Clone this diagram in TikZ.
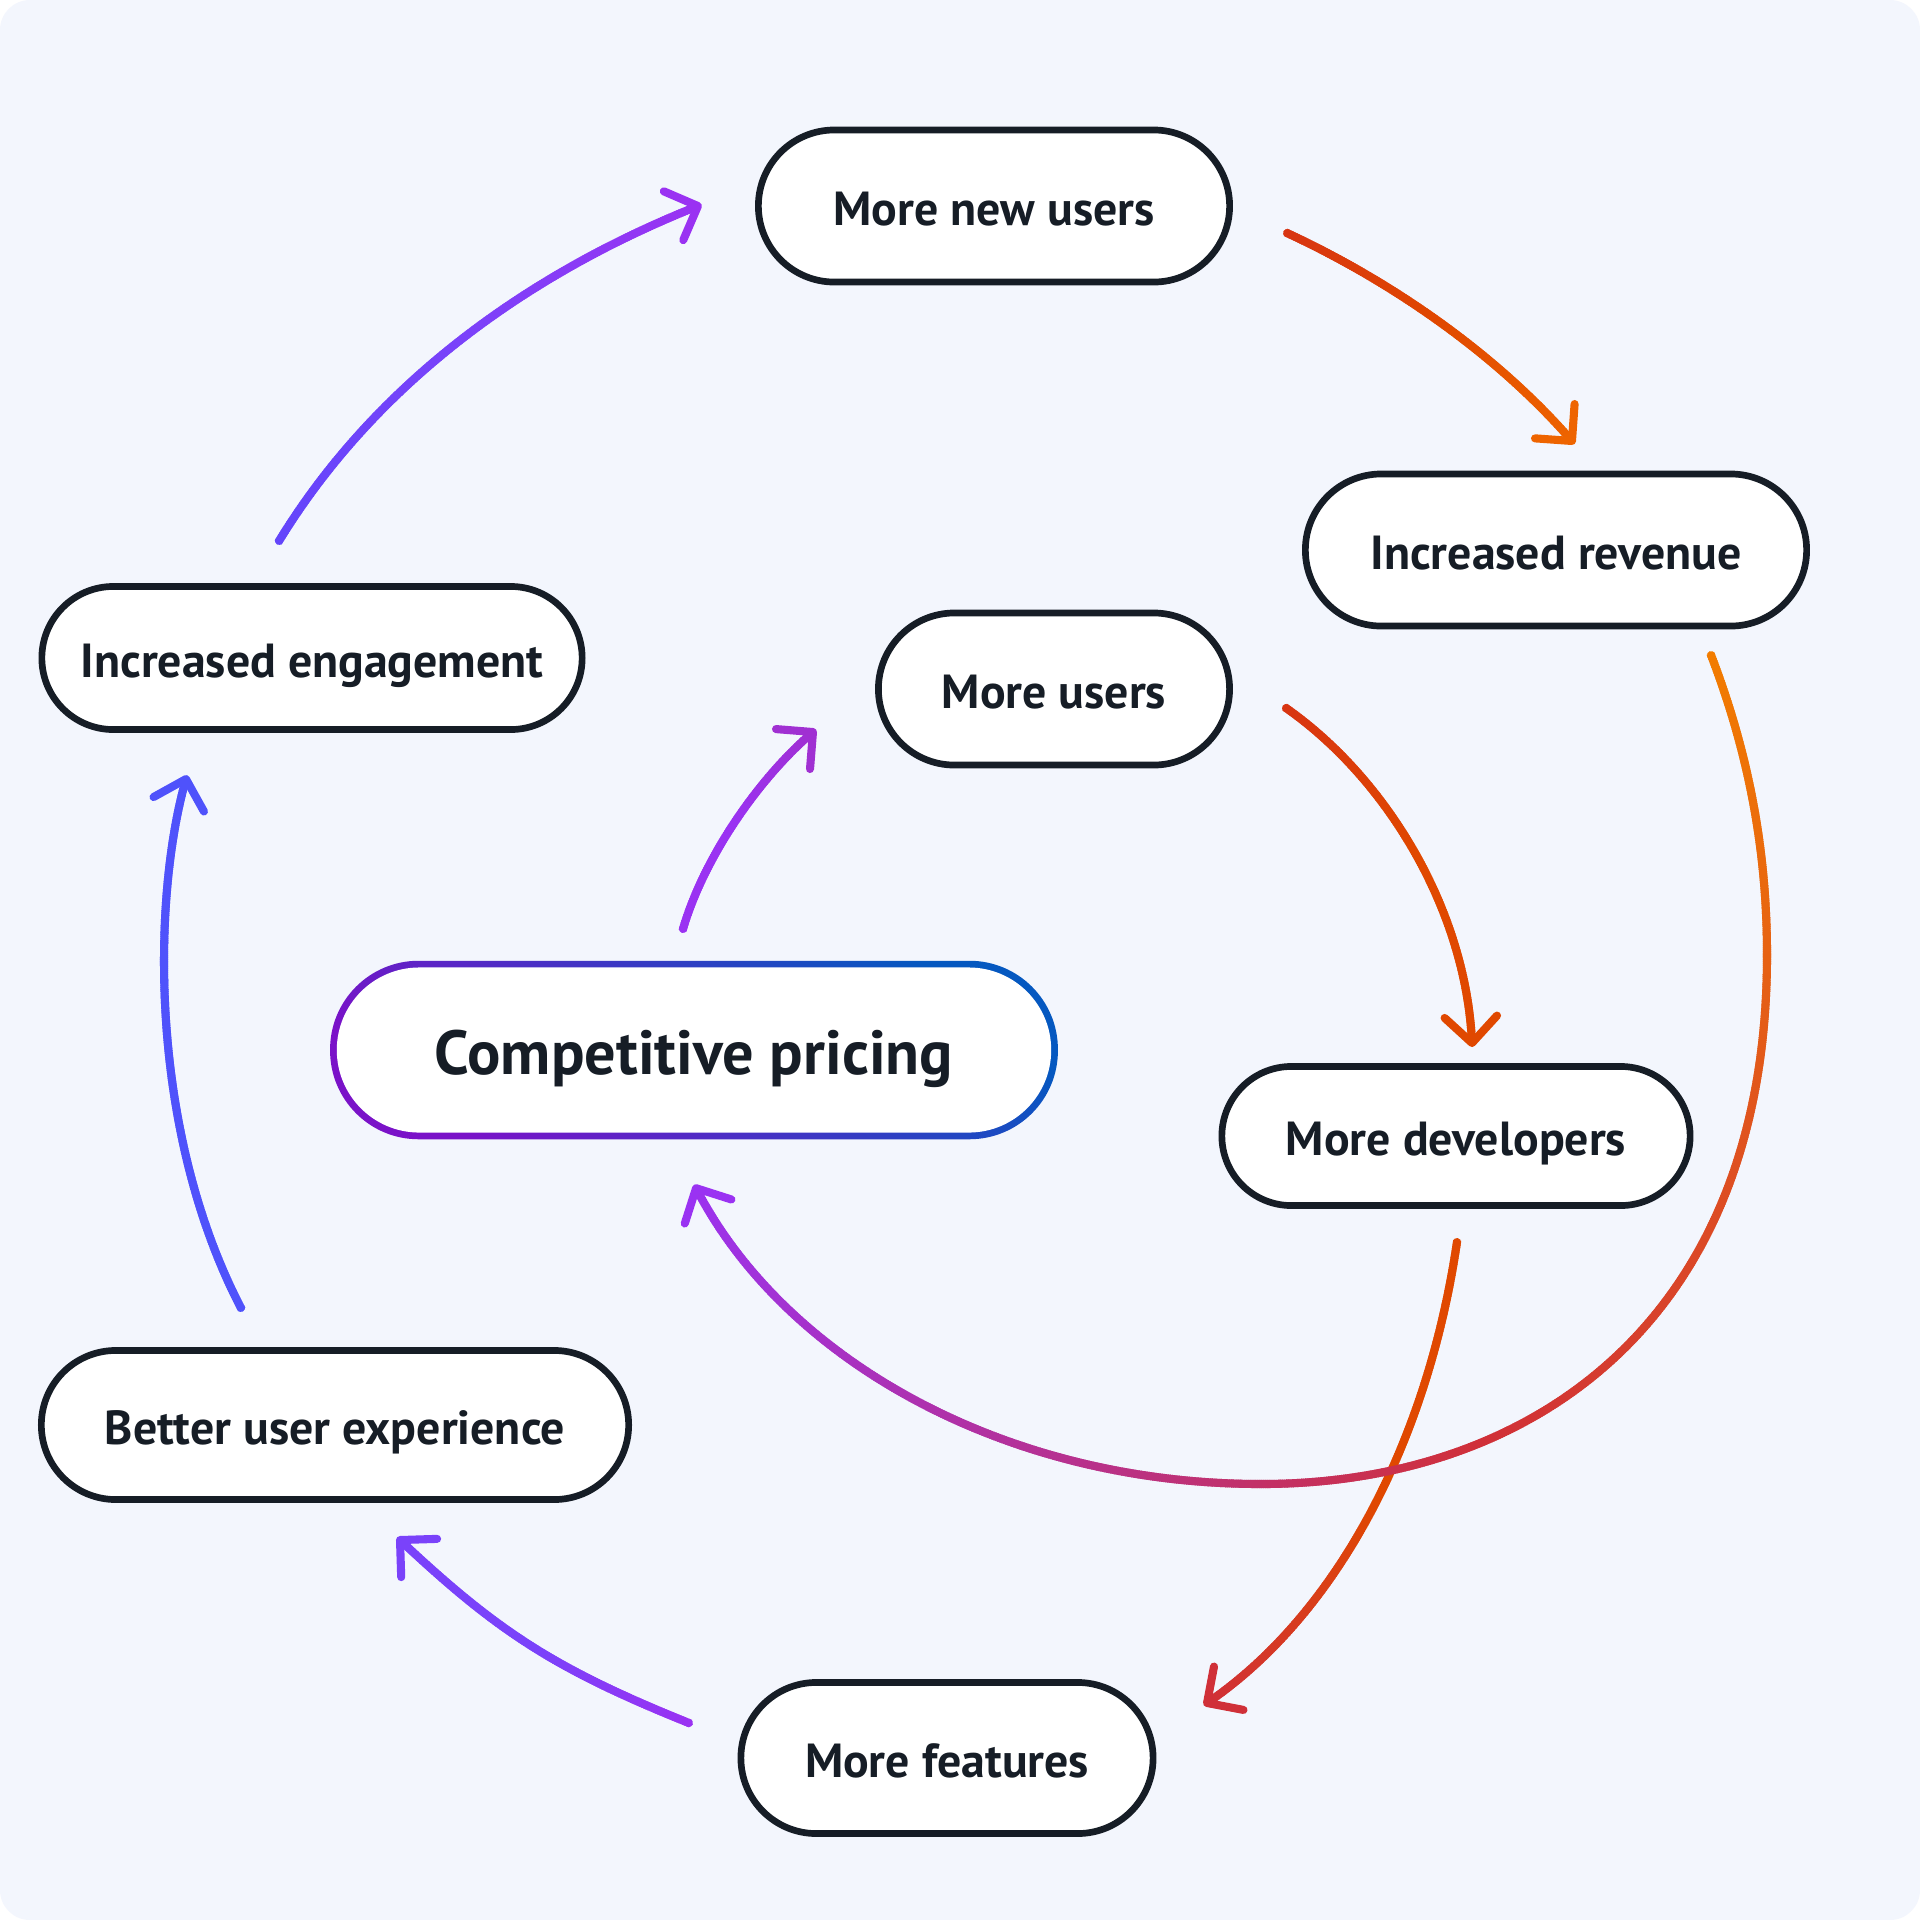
\documentclass[tikz,border=0pt]{standalone}
\usepackage{fontspec}
\setmainfont{PT Sans}
\usetikzlibrary{shapes.misc,decorations.markings,backgrounds,calc}
\definecolor{bgc}{HTML}{F3F6FD}
\definecolor{ink}{HTML}{161D26}
\definecolor{cBlue}{HTML}{4F52FB}
\definecolor{cIndigo}{HTML}{6345FB}
\definecolor{cViolet}{HTML}{7A42FA}
\definecolor{cPurple}{HTML}{9A32F2}
\definecolor{cPurpleB}{HTML}{A030D2}
\definecolor{cRedA}{HTML}{D83512}
\definecolor{cOrangeR}{HTML}{E04800}
\definecolor{cOrange}{HTML}{EE6400}
\definecolor{cOrangeY}{HTML}{F27C00}
\definecolor{cRed}{HTML}{D03038}
\definecolor{cpL}{HTML}{7A12C8}
\definecolor{cpM}{HTML}{0A42EE}
\definecolor{cpR}{HTML}{0558C0}
\newlength{\arrlw}\setlength{\arrlw}{2.3pt}
\tikzset{
  pill/.style={rounded rectangle, draw=ink, line width=1.9pt, fill=white,
    text=ink, font=\fontsize{13.6}{16}\selectfont\bfseries, inner sep=0pt,
    text height=11.2pt, text depth=0pt},
  gradline/.style n args={3}{
    postaction={decorate, decoration={markings,
      mark=at position 0 with {\fill[#1] (0,0) circle (0.5\arrlw);},
      mark=between positions 0 and 1 step 0.6pt with {
        \pgfmathsetmacro\gp{(\pgfkeysvalueof{/pgf/decoration/mark info/distance from start})/(\pgfdecoratedpathlength)*100}
        \ifdim\gp pt<50pt
          \pgfmathsetmacro\gq{min(100,max(0,2*\gp))}
          \colorlet{gcol}{#2!\gq!#1}
        \else
          \pgfmathsetmacro\gq{min(100,max(0,2*\gp-100))}
          \colorlet{gcol}{#3!\gq!#2}
        \fi
        \draw[gcol, line width=\arrlw, line cap=butt] (-0.5pt,0) -- (0.5pt,0);
      }}},
    postaction={decorate, decoration={markings,
      mark=at position 0.9999 with {\draw[#3, line width=\arrlw, line cap=round, line join=round]
        (-0.262cm,0.262cm) -- (0,0) -- (-0.262cm,-0.262cm);}}}
  }
}
\begin{document}
\begin{tikzpicture}[x=0.01cm,y=-0.01cm]
\begin{scope}[on background layer]
  \fill[white] (0,0) rectangle (1920,1920);
  \fill[bgc, rounded corners=0.3cm] (0,0) rectangle (1920,1920);
\end{scope}
\useasboundingbox (0,0) rectangle (1920,1920);

% nodes
\node[pill, minimum width=4.71cm, minimum height=1.52cm] (nu) at (994,206) {More new users};
\node[pill, minimum width=5.01cm, minimum height=1.52cm] (rev) at (1556,550) {Increased revenue};
\node[pill, minimum width=3.51cm, minimum height=1.52cm] (mu) at (1054,689) {More users};
\node[pill, minimum width=5.40cm, minimum height=1.43cm] (eng) at (312,658) {Increased engagement};
\node[rounded rectangle, fill=white, minimum width=7.14cm, minimum height=1.65cm, inner sep=0pt,
      text=ink, font=\fontsize{17.7}{20}\selectfont\bfseries,
      text height=14.1pt, text depth=0pt] (cp) at (694,1050) {Competitive pricing};
\node[pill, minimum width=4.68cm, minimum height=1.39cm] (dev) at (1456,1136) {More developers};
\node[pill, minimum width=5.87cm, minimum height=1.49cm] (ux) at (335,1425) {Better user experience};
\node[pill, minimum width=4.12cm, minimum height=1.51cm] (feat) at (947,1758) {More features};

\begin{scope}[on background layer]
  \shade[left color=cpL, middle color=cpM, right color=cpR, shading angle=140, rounded corners=0.885cm]
    ($(cp.west |- cp.south)+(-0.06cm,-0.06cm)$) rectangle ($(cp.east |- cp.north)+(0.06cm,0.06cm)$);
\end{scope}

% connector end points
\coordinate (a0) at (279,541);  \coordinate (a1) at (698,206);
\coordinate (b0) at (1287,233); \coordinate (b1) at (1572,441);
\coordinate (c0) at (1286,708); \coordinate (c1) at (1472,1043);
\coordinate (d0) at (1457,1242); \coordinate (d1) at (1207,1703);
\coordinate (e0) at (689,1723); \coordinate (e1) at (400,1540);
\coordinate (f0) at (241,1308); \coordinate (f1) at (186,779);
\coordinate (g0) at (683,929);  \coordinate (g1) at (813,732);
\coordinate (h0) at (1711,655); \coordinate (h1) at (696,1188);

% eng -> nu
\path[gradline={cIndigo}{cViolet}{cPurple}] (a0) .. controls (375,384) and (527,274) .. (a1);
% nu -> rev
\path[gradline={cRedA}{cOrangeR}{cOrange}] (b0) .. controls (1397,284) and (1500,358) .. (b1);
% mu -> dev
\path[gradline={cRedA}{cOrangeR}{cOrangeR}] (c0) .. controls (1386,778) and (1466,909) .. (c1);
% dev -> feat
\path[gradline={cOrangeR}{cOrangeR}{cRed}] (d0) .. controls (1427,1445) and (1335,1616) .. (d1);
% feat -> ux
\path[gradline={cPurple}{cViolet}{cViolet}] (e0) .. controls (555,1669) and (498,1632) .. (e1);
% ux -> eng
\path[gradline={cBlue}{cBlue}{cBlue}] (f0) .. controls (147,1127) and (153,894) .. (f1);
% cp -> mu
\path[gradline={cPurple}{cPurple}{cPurpleB}] (g0) .. controls (704,857) and (759,778) .. (g1);
% rev -> cp
\path[gradline={cOrangeY}{cRed}{cPurple}] (h0) .. controls (1751,759) and (1767,857) .. (1767,955)
   .. controls (1767,1322) and (1531,1484) .. (1261,1484)
   .. controls (1004,1484) and (784,1359) .. (h1);
\end{tikzpicture}
\end{document}
